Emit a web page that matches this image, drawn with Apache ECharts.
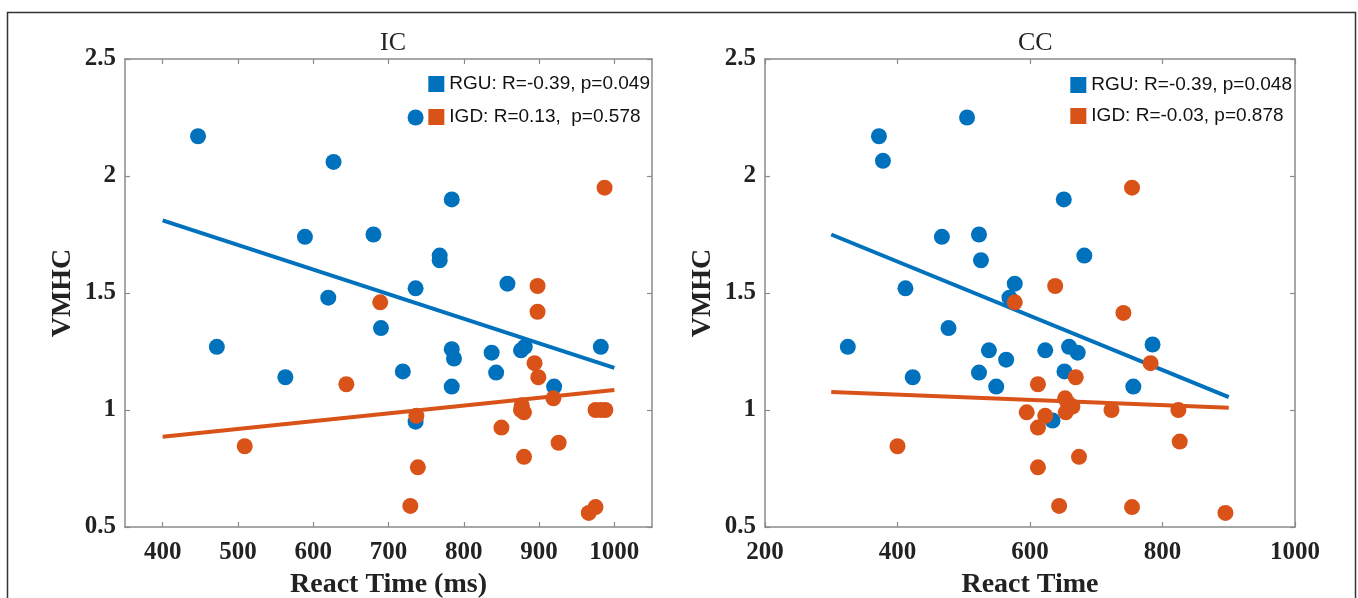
<!DOCTYPE html>
<html>
<head>
<meta charset="utf-8">
<script src="https://cdn.jsdelivr.net/npm/echarts@6/dist/echarts.min.js"></script>
<style>html,body{margin:0;padding:0;background:#fff;}#c{width:1358px;height:598px;}</style>
</head>
<body>
<div id="c"></div>
<script>
// ---- data ----
const icTitle = 'IC';
const ccTitle = 'CC';
const yLabel = 'VMHC';
const icXLabel = 'React Time (ms)';
const ccXLabel = 'React Time';
const icXTicks = [400, 500, 600, 700, 800, 900, 1000];
const ccXTicks = [200, 400, 600, 800, 1000];
const yTicks = [0.5, 1, 1.5, 2, 2.5];

const icRguName = 'RGU: R=-0.39, p=0.049';
const icIgdName = 'IGD: R=0.13,  p=0.578';
const ccRguName = 'RGU: R=-0.39, p=0.048';
const ccIgdName = 'IGD: R=-0.03, p=0.878';

const icRGU = [[447,2.17],[736,2.25],[627,2.06],[784,1.90],[589,1.74],[680,1.75],[768,1.66],[768,1.64],[858,1.54],[736,1.52],[620,1.48],[690,1.35],[472,1.27],[784,1.26],[787,1.22],[876,1.255],[881,1.27],[982,1.27],[837,1.245],[719,1.165],[843,1.16],[563,1.14],[784,1.10],[920,1.10],[736,0.95]];
const icIGD = [[987,1.95],[898,1.53],[689,1.46],[898,1.42],[894,1.20],[899,1.14],[644,1.11],[919,1.05],[877,1.02],[876,1.00],[880,0.99],[975,1.00],[982,1.00],[988,1.00],[737,0.975],[850,0.925],[509,0.845],[926,0.86],[880,0.80],[739,0.755],[729,0.59],[975,0.585],[966,0.56]];
const ccRGU = [[372,2.17],[378,2.065],[505,2.25],[651,1.90],[467,1.74],[523,1.75],[526,1.64],[682,1.66],[412,1.52],[577,1.54],[569,1.48],[477,1.35],[325,1.27],[538,1.255],[623,1.255],[659,1.27],[672,1.245],[785,1.28],[564,1.215],[523,1.16],[652,1.165],[423,1.14],[549,1.10],[756,1.10],[634,0.955]];
const ccIGD = [[754,1.95],[638,1.53],[577,1.46],[741,1.415],[782,1.20],[669,1.14],[612,1.11],[653,1.05],[657,1.03],[664,1.015],[654,0.99],[723,1.00],[824,1.00],[595,0.99],[623,0.975],[612,0.925],[400,0.845],[826,0.865],[674,0.80],[612,0.755],[644,0.59],[754,0.585],[895,0.56]];

const icFitX = [400, 1000];
const icRguFit = [1.81, 1.18];
const icIgdFit = [0.886, 1.085];
const ccFitX = [300, 900];
const ccRguFit = [1.75, 1.055];
const ccIgdFit = [1.077, 1.01];

// ---- styles ----
const BLUE = '#0072BD';
const ORANGE = '#D95319';
const SERIF = '"Liberation Serif", "Times New Roman", serif';
const SANS = '"Liberation Sans", Arial, sans-serif';
const AXC = '#8a8a8a';

const grids = [
  {left: 125, top: 59, width: 527, height: 468, outerBoundsMode: 'none', containLabel: false},
  {left: 765, top: 59, width: 530, height: 468, outerBoundsMode: 'none', containLabel: false}
];
const xRanges = [[350, 1050], [200, 1000]];
const xTicks = [icXTicks, ccXTicks];
const xNames = [icXLabel, ccXLabel];
const plain = v => String(v);

const xAxes = [], yAxes = [];
for (let g = 0; g < 2; g++) {
  xAxes.push({
    type: 'value', gridIndex: g, position: 'bottom',
    min: xRanges[g][0], max: xRanges[g][1],
    name: xNames[g], nameLocation: 'middle', nameGap: 44,
    nameTextStyle: {fontFamily: SERIF, fontWeight: 'bold', fontSize: 28, color: '#222'},
    axisLine: {show: true, onZero: false, lineStyle: {color: AXC, width: 1.5}},
    axisTick: {show: true, inside: true, length: 5, customValues: xTicks[g], lineStyle: {color: AXC, width: 1.2}},
    axisLabel: {show: true, customValues: xTicks[g], formatter: plain, margin: 13, fontFamily: SERIF, fontWeight: 'bold', fontSize: 25, color: '#222'},
    splitLine: {show: false}
  });
  xAxes.push({
    type: 'value', gridIndex: g, position: 'top',
    min: xRanges[g][0], max: xRanges[g][1],
    axisLine: {show: true, onZero: false, lineStyle: {color: AXC, width: 1.5}},
    axisTick: {show: true, inside: true, length: 5, customValues: xTicks[g], lineStyle: {color: AXC, width: 1.2}},
    axisLabel: {show: false},
    splitLine: {show: false}
  });
  yAxes.push({
    type: 'value', gridIndex: g, position: 'left',
    min: 0.5, max: 2.5,
    name: yLabel, nameLocation: 'middle', nameGap: 48,
    nameTextStyle: {fontFamily: SERIF, fontWeight: 'bold', fontSize: 28, color: '#222'},
    axisLine: {show: true, onZero: false, lineStyle: {color: AXC, width: 1.5}},
    axisTick: {show: true, inside: true, length: 5, customValues: yTicks, lineStyle: {color: AXC, width: 1.2}},
    axisLabel: {show: true, customValues: yTicks, formatter: plain, margin: 9, fontFamily: SERIF, fontWeight: 'bold', fontSize: 25, color: '#222'},
    splitLine: {show: false}
  });
  yAxes.push({
    type: 'value', gridIndex: g, position: 'right',
    min: 0.5, max: 2.5,
    axisLine: {show: true, onZero: false, lineStyle: {color: AXC, width: 1.5}},
    axisTick: {show: true, inside: true, length: 5, customValues: yTicks, lineStyle: {color: AXC, width: 1.2}},
    axisLabel: {show: false},
    splitLine: {show: false}
  });
}

function scatter(name, data, color, g) {
  return {type: 'scatter', name: name, data: data, xAxisIndex: g * 2, yAxisIndex: g * 2,
    symbol: 'circle', symbolSize: 16, itemStyle: {color: color, opacity: 1}, z: 3, silent: true};
}
function fit(xs, ys, color, g) {
  return {type: 'line', data: xs.map((x, i) => [x, ys[i]]), xAxisIndex: g * 2, yAxisIndex: g * 2,
    showSymbol: false, symbol: 'none', lineStyle: {color: color, width: 4}, z: 2, silent: true};
}

const legendText = {fontFamily: SANS, fontSize: 19, lineHeight: 20, color: '#111'};

const option = {
  animation: false,
  backgroundColor: '#fff',
  title: [
    {text: icTitle, left: 375, top: 25, textStyle: {fontFamily: SERIF, fontWeight: 'normal', fontSize: 26, color: '#222'}},
    {text: ccTitle, left: 1013, top: 25, textStyle: {fontFamily: SERIF, fontWeight: 'normal', fontSize: 26, color: '#222'}}
  ],
  legend: [
    {data: [icRguName, icIgdName], orient: 'vertical', right: 703, top: 69, icon: 'rect',
      itemWidth: 16, itemHeight: 16, itemGap: 13, textStyle: legendText, selectedMode: false},
    {data: [ccRguName, ccIgdName], orient: 'vertical', right: 61, top: 70, icon: 'rect',
      itemWidth: 16, itemHeight: 16, itemGap: 11, textStyle: legendText, selectedMode: false}
  ],
  grid: grids,
  xAxis: xAxes,
  yAxis: yAxes,
  series: [
    fit(icFitX, icRguFit, BLUE, 0),
    fit(icFitX, icIgdFit, ORANGE, 0),
    scatter(icRguName, icRGU, BLUE, 0),
    scatter(icIgdName, icIGD, ORANGE, 0),
    fit(ccFitX, ccRguFit, BLUE, 1),
    fit(ccFitX, ccIgdFit, ORANGE, 1),
    scatter(ccRguName, ccRGU, BLUE, 1),
    scatter(ccIgdName, ccIGD, ORANGE, 1)
  ],
  graphic: [
    {type: 'polyline', shape: {points: [[7.5, 598], [7.5, 12.5], [1355.5, 12.5], [1355.5, 598]]},
      style: {stroke: '#333', lineWidth: 1.5, fill: null}, silent: true}
  ]
};

const chart = echarts.init(document.getElementById('c'), null, {renderer: 'canvas'});
chart.setOption(option);
</script>
</body>
</html>
